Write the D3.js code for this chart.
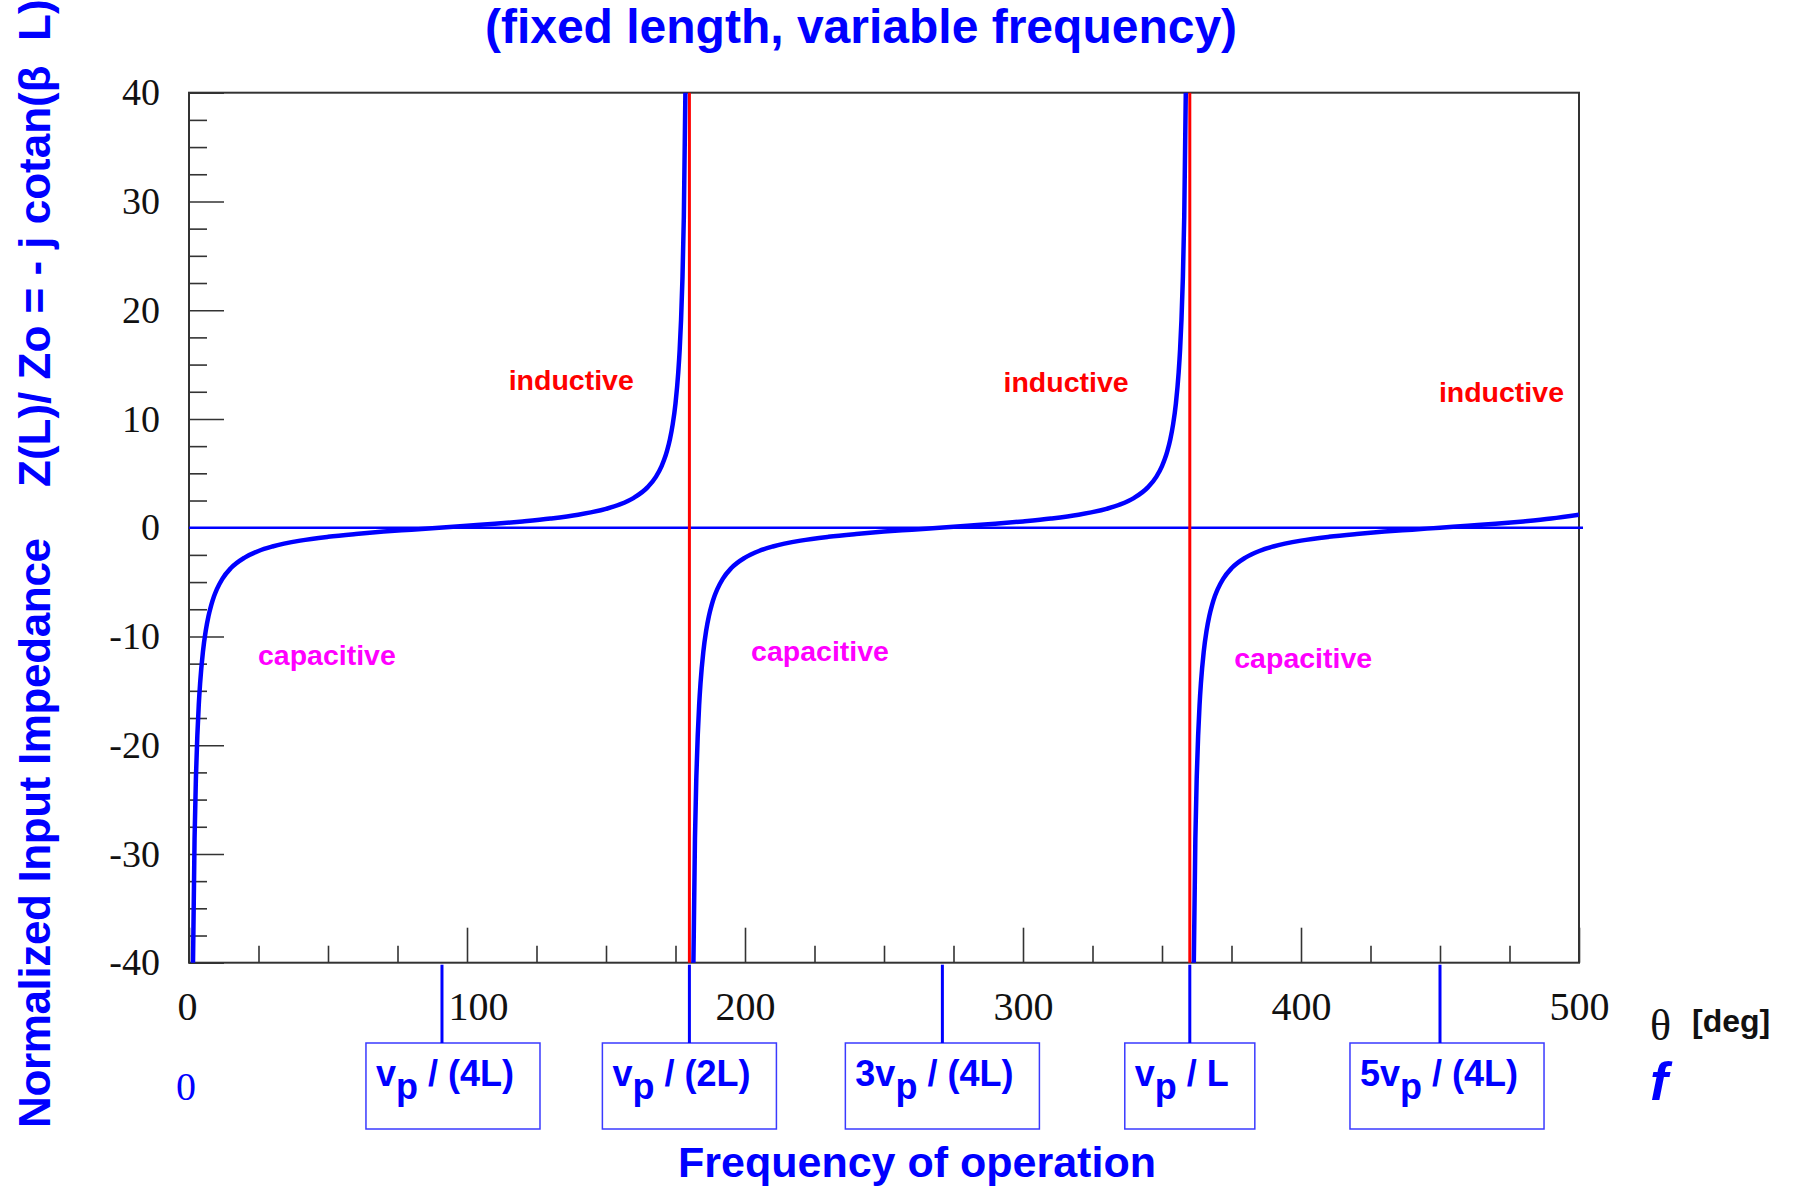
<!DOCTYPE html>
<html>
<head>
<meta charset="utf-8">
<script src="https://cdn.jsdelivr.net/npm/d3@7"></script>
<style>
  body { margin: 0; background: #fff; }
  svg { display: block; }
  .sans { font-family: "Liberation Sans", Arial, sans-serif; font-weight: bold; }
  .serif { font-family: "Liberation Serif", "Times New Roman", serif; }
</style>
</head>
<body>
<div id="chart"></div>
<script>
// Z(L)/Zo, one branch per period (theta in deg)
const branch1 = [
  [1.4, -40.9], [2, -28.6], [2.5, -22.9], [3, -19.1], [3.5, -16.35], [4, -14.3], [5, -11.43],
  [6, -9.51], [7, -8.14], [8, -7.12], [9, -6.31], [10, -5.67], [12, -4.7], [15, -3.73],
  [20, -2.75], [25, -2.14], [30, -1.73], [40, -1.19], [50, -0.84], [60, -0.58], [70, -0.36],
  [80, -0.18], [90, 0], [100, 0.18], [110, 0.36], [120, 0.58], [130, 0.84], [140, 1.19],
  [150, 1.73], [155, 2.14], [160, 2.75], [165, 3.73], [168, 4.7], [170, 5.67], [171, 6.31],
  [172, 7.12], [173, 8.14], [174, 9.51], [175, 11.43], [176, 14.3], [176.5, 16.35],
  [177, 19.1], [177.5, 22.9], [178, 28.6], [178.6, 40.9]
];
const branch2 = [
  [181.4, -40.9], [182, -28.6], [182.5, -22.9], [183, -19.1], [183.5, -16.35], [184, -14.3], [185, -11.43],
  [186, -9.51], [187, -8.14], [188, -7.12], [189, -6.31], [190, -5.67], [192, -4.7], [195, -3.73],
  [200, -2.75], [205, -2.14], [210, -1.73], [220, -1.19], [230, -0.84], [240, -0.58], [250, -0.36],
  [260, -0.18], [270, 0], [280, 0.18], [290, 0.36], [300, 0.58], [310, 0.84], [320, 1.19],
  [330, 1.73], [335, 2.14], [340, 2.75], [345, 3.73], [348, 4.7], [350, 5.67], [351, 6.31],
  [352, 7.12], [353, 8.14], [354, 9.51], [355, 11.43], [356, 14.3], [356.5, 16.35],
  [357, 19.1], [357.5, 22.9], [358, 28.6], [358.6, 40.9]
];
const branch3 = [
  [361.4, -40.9], [362, -28.6], [362.5, -22.9], [363, -19.1], [363.5, -16.35], [364, -14.3], [365, -11.43],
  [366, -9.51], [367, -8.14], [368, -7.12], [369, -6.31], [370, -5.67], [372, -4.7], [375, -3.73],
  [380, -2.75], [385, -2.14], [390, -1.73], [400, -1.19], [410, -0.84], [420, -0.58], [430, -0.36],
  [440, -0.18], [450, 0], [460, 0.18], [470, 0.36], [480, 0.58], [490, 0.84], [500, 1.19]
];

const poles = [180, 360];
const xMajor = [0, 100, 200, 300, 400, 500];
const xMinor = [25, 50, 75, 125, 150, 175, 225, 250, 275, 325, 350, 375, 425, 450, 475];
const yMajor = [-40, -30, -20, -10, 0, 10, 20, 30, 40];
const yMinor = [-37.5, -35, -32.5, -27.5, -25, -22.5, -17.5, -15, -12.5, -7.5, -5, -2.5,
  2.5, 5, 7.5, 12.5, 15, 17.5, 22.5, 25, 27.5, 32.5, 35, 37.5];

// frequency markers: theta, coefficient, tail
const markerTheta = [91, 180, 271, 360, 450];
const markerPre = ["", "", "3", "", "5"];
const markerPost = [" / (4L)", " / (2L)", " / (4L)", " / L", " / (4L)"];

const inductiveAt = [[115, 12.7], [293, 12.5], [449.6, 11.6]];
const capacitiveAt = [[24.8, -12.6], [202.2, -12.3], [376, -12.9]];

const W = 1796, H = 1187;
const x = d3.scaleLinear().domain([0, 500]).range([189, 1579]);
const y = d3.scaleLinear().domain([-40, 40]).range([962.7, 92.7]);

// boxes are not all centred on their marker in the original
const boxNudge = [11, 0, 0, 0, 7];

const svg = d3.select("#chart").append("svg")
  .attr("width", W).attr("height", H);

svg.append("clipPath").attr("id", "plot")
  .append("rect")
  .attr("x", x(0)).attr("y", y(40))
  .attr("width", x(500) - x(0)).attr("height", y(-40) - y(40));

// frame
svg.append("rect")
  .attr("x", x(0)).attr("y", y(40))
  .attr("width", x(500) - x(0)).attr("height", y(-40) - y(40))
  .attr("fill", "none").attr("stroke", "#333").attr("stroke-width", 2);

// axes, ticks pointing inside
function styleAxis(g) {
  g.select(".domain").remove();
  g.selectAll(".tick line").attr("stroke", "#333").attr("stroke-width", 1.6);
  g.selectAll(".tick text").attr("class", "serif").attr("fill", "#111");
}

svg.append("g").attr("transform", `translate(${x(0)},0)`)
  .call(d3.axisLeft(y).tickValues(yMinor).tickSize(-18).tickFormat(""))
  .call(styleAxis);
svg.append("g").attr("transform", `translate(${x(0)},0)`)
  .call(d3.axisLeft(y).tickValues(yMajor).tickSize(-35).tickPadding(29).tickFormat(d => String(d)))
  .call(styleAxis)
  .call(g => g.selectAll(".tick text").attr("font-size", 38));

svg.append("g").attr("transform", `translate(0,${y(-40)})`)
  .call(d3.axisBottom(x).tickValues(xMinor).tickSize(-17).tickFormat(""))
  .call(styleAxis);
svg.append("g").attr("transform", `translate(0,${y(-40)})`)
  .call(d3.axisBottom(x).tickValues(xMajor).tickSize(-35).tickFormat(d => String(d)))
  .call(styleAxis)
  .call(g => g.selectAll(".tick text")
    .attr("font-size", 40).attr("dy", null).attr("y", 57)
    .attr("dx", d => d === 100 ? 11 : (d === 0 ? -2 : 0)));

// zero line
svg.append("line")
  .attr("x1", x(0)).attr("x2", x(500) + 4)
  .attr("y1", y(0)).attr("y2", y(0))
  .attr("stroke", "#0000ff").attr("stroke-width", 2.5);

// poles
svg.selectAll(".pole").data(poles).join("line")
  .attr("class", "pole")
  .attr("x1", d => x(d)).attr("x2", d => x(d))
  .attr("y1", y(40)).attr("y2", y(-40))
  .attr("stroke", "#ff0000").attr("stroke-width", 3);

// impedance curve
const line = d3.line()
  .x(d => x(d[0])).y(d => y(d[1]))
  .curve(d3.curveMonotoneX);

svg.append("g").attr("clip-path", "url(#plot)")
  .selectAll("path").data([branch1, branch2, branch3]).join("path")
  .attr("d", line)
  .attr("fill", "none").attr("stroke", "#0000ff").attr("stroke-width", 4.5);

// region labels
svg.selectAll(".ind").data(inductiveAt).join("text")
  .attr("class", "sans ind")
  .attr("x", d => x(d[0])).attr("y", d => y(d[1]))
  .attr("font-size", 28.5).attr("fill", "#ff0000")
  .text("inductive");
svg.selectAll(".cap").data(capacitiveAt).join("text")
  .attr("class", "sans cap")
  .attr("x", d => x(d[0])).attr("y", d => y(d[1]))
  .attr("font-size", 28.5).attr("fill", "#ff00ff")
  .text("capacitive");

// frequency markers with boxed labels
const boxTop = 1043, boxBottom = 1129;
markerTheta.forEach((t, i) => {
  const mx = x(t);
  const g = svg.append("g");
  const txt = g.append("text")
    .attr("class", "sans")
    .attr("x", mx - 8 + boxNudge[i]).attr("y", 1086)
    .attr("text-anchor", "middle")
    .attr("font-size", 36).attr("fill", "#0000ff")
    .style("white-space", "pre");
  txt.append("tspan").text(markerPre[i] + "v");
  txt.append("tspan").attr("dy", 13).text("p");
  txt.append("tspan").attr("dy", -13).text(markerPost[i]);
  const bb = txt.node().getBBox();
  g.insert("rect", "text")
    .attr("x", bb.x - 10).attr("y", boxTop)
    .attr("width", bb.width + 36).attr("height", boxBottom - boxTop)
    .attr("fill", "#fff").attr("stroke", "#3a3aff").attr("stroke-width", 1.5);
  g.append("line")
    .attr("x1", mx).attr("x2", mx)
    .attr("y1", y(-40) + 2).attr("y2", boxTop)
    .attr("stroke", "#0000ff").attr("stroke-width", 3);
});

// titles and axis labels
svg.append("text").attr("class", "sans")
  .attr("x", 861).attr("y", 43).attr("text-anchor", "middle")
  .attr("font-size", 48).attr("fill", "#0000ff")
  .text("(fixed length, variable frequency)");

svg.append("text").attr("class", "sans")
  .attr("x", 917).attr("y", 1177).attr("text-anchor", "middle")
  .attr("font-size", 43).attr("fill", "#0000ff")
  .text("Frequency of operation");

svg.append("text").attr("class", "sans")
  .attr("transform", "translate(50,1128) rotate(-90)")
  .attr("font-size", 44).attr("fill", "#0000ff")
  .attr("textLength", 590)
  .text("Normalized Input Impedance");
svg.append("text").attr("class", "sans")
  .attr("transform", "translate(50,487) rotate(-90)")
  .attr("font-size", 44).attr("fill", "#0000ff")
  .style("white-space", "pre")
  .text("Z(L)/ Zo = - j cotan(\u03B2  L)");

svg.append("text").attr("class", "serif")
  .attr("x", 1650).attr("y", 1040)
  .attr("font-size", 44).attr("fill", "#111")
  .text("\u03B8");
svg.append("text").attr("class", "sans")
  .attr("x", 1692).attr("y", 1032)
  .attr("font-size", 32).attr("fill", "#111")
  .text("[deg]");

svg.append("text").attr("class", "serif")
  .attr("x", 186).attr("y", 1100).attr("text-anchor", "middle")
  .attr("font-size", 40).attr("fill", "#0000ff")
  .text("0");
svg.append("text").attr("class", "sans")
  .attr("x", 1650).attr("y", 1100)
  .attr("font-size", 54).attr("font-style", "italic").attr("fill", "#0000ff")
  .text("f");
</script>
</body>
</html>
